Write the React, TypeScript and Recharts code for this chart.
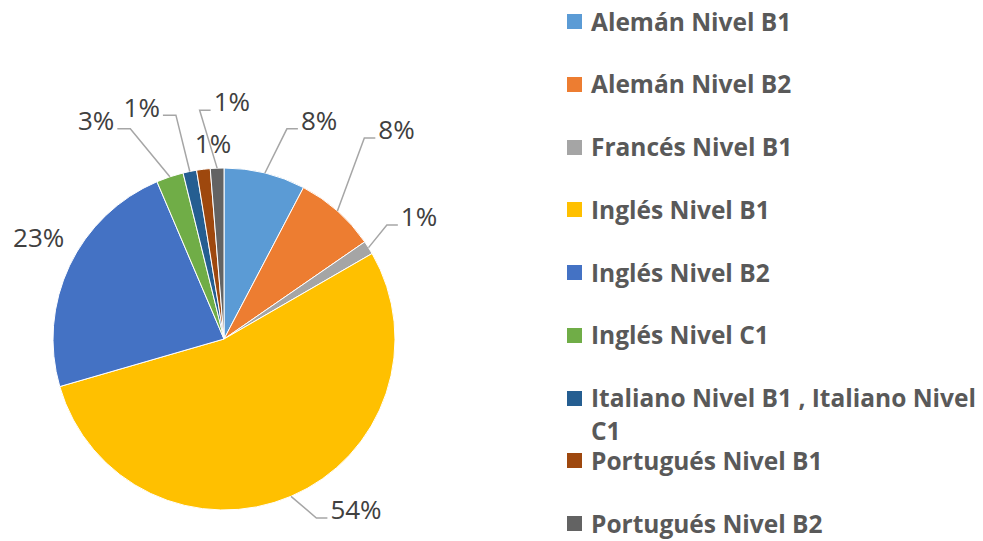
import React from 'react';
import { PieChart, Pie, Cell, Legend } from 'recharts';

const categories = [
  'Alemán Nivel B1',
  'Alemán Nivel B2',
  'Francés Nivel B1',
  'Inglés Nivel B1',
  'Inglés Nivel B2',
  'Inglés Nivel C1',
  'Italiano Nivel B1 , Italiano Nivel C1',
  'Portugués Nivel B1',
  'Portugués Nivel B2',
];
const counts = [6, 6, 1, 42, 18, 2, 1, 1, 1];
const colors = ['#5B9BD5', '#ED7D31', '#A5A5A5', '#FFC000', '#4472C4', '#70AD47', '#255E91', '#9E480E', '#636363'];

// label placement: extra radius beyond the pie edge and angular shift (deg, clockwise) from slice middle
const labelRadius = [67, 100, 59, 45, 40, 82, 75, 25, 66];
const labelShift = [9.7, -2, 0.3, -14.6, 3.2, -11.9, -8, 3.7, 4.2];
const labelLine = [true, true, true, true, false, true, true, false, true];

const data = categories.map((name, i) => ({ name, value: counts[i] }));

const LABEL_FONT = 26;
const RAD = Math.PI / 180;

const renderLabel = (props: any) => {
  const { cx, cy, midAngle, outerRadius, percent, index } = props;
  const text = `${Math.round(percent * 100)}%`;
  const a = (midAngle - labelShift[index]) * RAD;
  const r = outerRadius + labelRadius[index];
  const lx = cx + r * Math.cos(a);
  const ly = cy - r * Math.sin(a);
  const digits = text.length - 1;
  const w = (digits * 0.572 + 0.827) * LABEL_FONT;
  let line = null;
  if (labelLine[index]) {
    const ma = midAngle * RAD;
    const ax = cx + outerRadius * Math.cos(ma);
    const ay = cy - outerRadius * Math.sin(ma);
    const right = lx >= cx;
    const py = ly + 8;
    const px = right ? lx - w / 2 - 3 : lx + w / 2 + 3;
    const ex = right ? px - 11 : px + 13;
    line = (
      <polyline
        points={`${ax},${ay} ${ex},${py} ${px},${py}`}
        fill="none"
        stroke="#A6A6A6"
        strokeWidth={1.5}
      />
    );
  }
  return (
    <g key={`lbl-${index}`}>
      {line}
      <text
        x={lx}
        y={ly + LABEL_FONT * 0.36}
        textAnchor="middle"
        fill="#404040"
        fontSize={LABEL_FONT}
        fontFamily="'Open Sans', sans-serif"
      >
        {text}
      </text>
    </g>
  );
};

const renderLegend = (props: any) => {
  const { payload } = props;
  return (
    <div style={{ fontFamily: "'Open Sans', sans-serif", fontWeight: 700, fontSize: 24.5, color: '#595959' }}>
      {(payload || []).map((entry: any, i: number) => (
        <div key={i} style={{ height: 62.75, display: 'flex', alignItems: 'flex-start' }}>
          <div
            style={{
              width: 15,
              height: 15,
              background: entry.color,
              marginTop: 9.5,
              flex: '0 0 15px',
            }}
          />
          <div style={{ marginLeft: 9, lineHeight: '33px', width: 386 }}>{entry.value}</div>
        </div>
      ))}
    </div>
  );
};

export default function App() {
  return (
    <div style={{ position: 'absolute', left: 0, top: 0, width: 983, height: 541, background: '#fff' }}>
      <PieChart width={983} height={541} margin={{ top: 0, right: 0, bottom: 0, left: 0 }}>
        <Pie
          data={data}
          dataKey="value"
          nameKey="name"
          cx={224}
          cy={339}
          outerRadius={171}
          startAngle={90}
          endAngle={-270}
          stroke="#fff"
          strokeWidth={1}
          label={renderLabel}
          labelLine={false}
          isAnimationActive={false}
        >
          {data.map((d, i) => (
            <Cell key={d.name} fill={colors[i]} />
          ))}
        </Pie>
        <Legend
          layout="vertical"
          verticalAlign="top"
          align="right"
          content={renderLegend}
          wrapperStyle={{ position: 'absolute', left: 567, top: 4.5, width: 416 }}
        />
      </PieChart>
    </div>
  );
}
